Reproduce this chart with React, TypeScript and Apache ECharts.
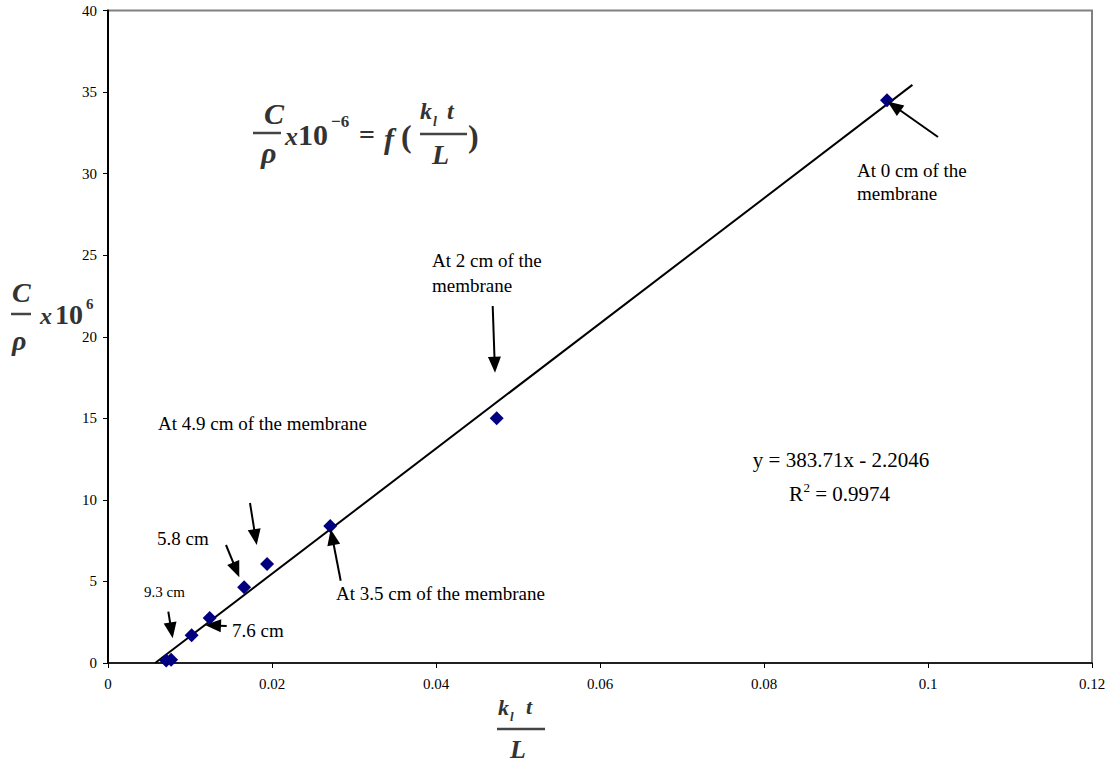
import { useEffect, useRef } from 'react';
import * as echarts from 'echarts';

// Data
const kLtOverL = [0.0071, 0.0077, 0.0102, 0.0124, 0.0166, 0.0194, 0.0271, 0.0474, 0.095];
const cOverRho = [0.15, 0.2, 1.7, 2.76, 4.64, 6.07, 8.4, 15.0, 34.5];
const trendX = [0.00575, 0.0981];
const trendY = [0, 35.44];
const xAxisMin = 0;
const xAxisMax = 0.12;
const xAxisStep = 0.02;
const yAxisMin = 0;
const yAxisMax = 40;
const yAxisStep = 5;

const FONT = '"Liberation Serif", "Times New Roman", serif';

// Annotation arrows: tail x, tail y, tip x, tip y (pixels)
const arrowSpecs = [
  [938, 137, 887.5, 101.5],
  [492.7, 306, 495, 372.7],
  [340.7, 580.7, 330.7, 529.3],
  [250, 503, 256.7, 545],
  [226, 545, 239.3, 577.3],
  [168.3, 611.7, 172.7, 638.3],
  [226.7, 626, 205, 625],
];

function arrow(x1: number, y1: number, x2: number, y2: number) {
  const dx = x2 - x1;
  const dy = y2 - y1;
  const len = Math.sqrt(dx * dx + dy * dy);
  const ux = dx / len;
  const uy = dy / len;
  const L = 16;
  const w = 6.5;
  const bx = x2 - ux * L;
  const by = y2 - uy * L;
  const nx = -uy;
  const ny = ux;
  return [
    {
      type: 'line',
      shape: { x1, y1, x2: bx + ux * 2, y2: by + uy * 2 },
      style: { stroke: '#000', lineWidth: 2 },
      z: 100,
    },
    {
      type: 'polygon',
      shape: {
        points: [
          [x2, y2],
          [bx + nx * w, by + ny * w],
          [bx - nx * w, by - ny * w],
        ],
      },
      style: { fill: '#000' },
      z: 100,
    },
  ];
}

function txt(text: string, x: number, y: number, size: number, opts: any = {}) {
  return {
    type: 'text',
    x,
    y,
    z: 100,
    style: {
      text,
      fill: opts.fill || '#000',
      fontFamily: FONT,
      fontSize: size,
      fontStyle: opts.italic ? 'italic' : 'normal',
      fontWeight: opts.bold ? 'bold' : 'normal',
      align: opts.align || 'left',
      verticalAlign: 'middle',
      lineHeight: opts.lineHeight,
    },
  };
}

function bar(x1: number, x2: number, y: number) {
  return {
    type: 'line',
    z: 100,
    shape: { x1, y1: y, x2, y2: y },
    style: { stroke: '#444', lineWidth: 2.5 },
  };
}

export default function App() {
  const ref = useRef<HTMLDivElement>(null);

  useEffect(() => {
    if (!ref.current) return;
    const chart = echarts.init(ref.current, undefined, { renderer: 'svg' });
    const fc = '#333';
    const b = { bold: true, fill: fc };
    const bi = { bold: true, italic: true, fill: fc };
    const graphics: any[] = [
      // title formula
      txt('C', 264, 113, 30, bi),
      bar(253, 281, 133),
      txt('ρ', 261, 152, 30, bi),
      txt('x', 285, 136, 26, bi),
      txt('10', 298, 134, 30, b),
      txt('−6', 331, 121, 17, b),
      txt('=', 359, 134, 28, b),
      txt('f', 384, 138, 30, bi),
      txt('(', 401, 136, 32, b),
      txt('k', 420, 111, 24, bi),
      txt('l', 433, 121, 14, bi),
      txt('t', 447, 111, 24, bi),
      bar(420, 467, 134),
      txt('L', 432, 154, 28, bi),
      txt(')', 468, 136, 32, b),
      // y axis title
      txt('C', 12, 292, 28, bi),
      bar(11, 31, 314),
      txt('ρ', 12, 340, 28, bi),
      txt('x', 40, 316, 24, bi),
      txt('10', 55, 314, 28, b),
      txt('6', 86, 304, 15, b),
      // x axis title
      txt('k', 498, 707, 22, bi),
      txt('l', 510, 716, 13, bi),
      txt('t', 526, 706, 22, bi),
      bar(497, 545, 729),
      txt('L', 510, 749, 26, bi),
      // annotations
      txt('At 0 cm of the\nmembrane', 857, 182, 19, { lineHeight: 23.7 }),
      txt('At 2 cm of the\nmembrane', 432, 273, 19, { lineHeight: 24.5 }),
      txt('At 4.9 cm of the membrane', 158, 423.5, 19),
      txt('At 3.5 cm of the membrane', 336, 593, 19),
      txt('5.8 cm', 157, 538, 19),
      txt('9.3 cm', 144, 592, 15),
      txt('7.6 cm', 232, 630, 19),
      txt('y = 383.71x - 2.2046', 841, 460, 21, { align: 'center' }),
      txt('R', 789, 494, 21),
      txt('2', 803.5, 487, 13),
      txt(' = 0.9974', 810, 494, 21),
    ];
    arrowSpecs.forEach((a) => graphics.push(...arrow(a[0], a[1], a[2], a[3])));

    chart.setOption({
      animation: false,
      backgroundColor: '#fff',
      grid: {
        left: 108,
        top: 10.5,
        right: 17,
        bottom: 104,
        show: true,
        borderColor: '#808080',
        borderWidth: 2,
        backgroundColor: '#fff',
      },
      xAxis: {
        type: 'value',
        min: xAxisMin,
        max: xAxisMax,
        interval: xAxisStep,
        axisLine: { show: true, onZero: false, lineStyle: { color: '#000', width: 1.5 } },
        axisTick: { show: true, inside: false, length: 5, lineStyle: { color: '#000' } },
        splitLine: { show: false },
        axisLabel: {
          color: '#000',
          fontFamily: FONT,
          fontSize: 15,
          margin: 13,
          formatter: (v: number) => String(Math.round(v * 100) / 100),
        },
      },
      yAxis: {
        type: 'value',
        min: yAxisMin,
        max: yAxisMax,
        interval: yAxisStep,
        axisLine: { show: true, onZero: false, lineStyle: { color: '#000', width: 2 } },
        axisTick: { show: true, inside: false, length: 5, lineStyle: { color: '#000' } },
        splitLine: { show: false },
        axisLabel: { color: '#000', fontFamily: FONT, fontSize: 15, margin: 11 },
      },
      series: [
        {
          type: 'line',
          data: trendX.map((x, i) => [x, trendY[i]]),
          showSymbol: false,
          symbol: 'none',
          lineStyle: { color: '#000', width: 2 },
          z: 2,
          silent: true,
        },
        {
          type: 'scatter',
          data: kLtOverL.map((x, i) => [x, cOverRho[i]]),
          symbol: 'diamond',
          symbolSize: 14,
          itemStyle: { color: '#000080', opacity: 1 },
          clip: false,
          z: 3,
        },
      ],
      graphic: graphics,
    });
    return () => chart.dispose();
  }, []);

  return (
    <div
      ref={ref}
      style={{ position: 'fixed', left: 0, top: 0, width: 1109, height: 767, background: '#fff' }}
    />
  );
}
